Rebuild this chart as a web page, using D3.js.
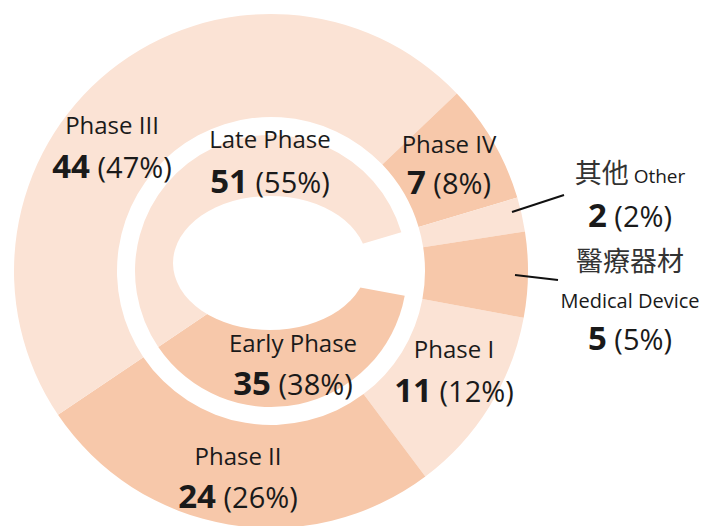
<!DOCTYPE html>
<html>
<head>
<meta charset="utf-8">
<script src="https://cdn.jsdelivr.net/npm/d3@7"></script>
<style>
  body { margin: 0; background: #fff; }
  svg { display: block; }
  text { font-family: "Open Sans", sans-serif; fill: #1a1a1a; }
</style>
</head>
<body>
<svg id="chart" width="701" height="526"></svg>
<script>
// outer ring: by phase / type (clockwise, starting at Phase I)
var outerNames = ["Phase I", "Phase II", "Phase III", "Phase IV", "Other", "Medical Device"];
var outerValues = [11, 24, 44, 7, 2, 5];
var outerPct = [12, 26, 47, 8, 2, 5];
var outerShade = ["light", "dark", "light", "dark", "light", "dark"];

// inner ring: early / late, the last slot is left blank (other + device)
var innerNames = ["Early Phase", "Late Phase", "blank"];
var innerValues = [35, 51, 7];
var innerPct = [38, 55, null];
var innerShade = ["dark", "light", "none"];

var colors = { light: "#fbe3d5", dark: "#f7c8aa", none: "none" };

var svg = d3.select("#chart");
var cx = 271, cy = 271;
var startA = 100.5 * Math.PI / 180; // Phase I starts a bit past 3 o'clock

var pie = d3.pie().sort(null).startAngle(startA).endAngle(startA + 2 * Math.PI);

var outerArc = d3.arc().innerRadius(154).outerRadius(257);
var innerArc = d3.arc().innerRadius(0).outerRadius(136);

var g = svg.append("g").attr("transform", "translate(" + cx + "," + cy + ")");

g.selectAll("path.outer")
  .data(pie(outerValues))
  .enter().append("path")
  .attr("class", "outer")
  .attr("d", outerArc)
  .attr("fill", function(d, i) { return colors[outerShade[i]]; });

g.selectAll("path.inner")
  .data(pie(innerValues))
  .enter().append("path")
  .attr("class", "inner")
  .attr("d", innerArc)
  .attr("fill", function(d, i) { return colors[innerShade[i]]; });

// hole of the inner ring (it is squashed in the original)
g.append("ellipse")
  .attr("cx", -1).attr("cy", -8)
  .attr("rx", 97).attr("ry", 67)
  .attr("fill", "#fff");

// title, almost entirely above the visible area
svg.append("text")
  .attr("x", 389).attr("y", -6)
  .attr("text-anchor", "middle")
  .attr("textLength", 214)
  .style("font-size", "24px")
  .text("(Study Phase & Type)");

// label placement (x center, baseline of the name line, baseline of the value line)
var labelPos = {
  "Phase III": [112, 134, 178],
  "Late Phase": [270, 148, 193],
  "Phase IV": [449, 153, 194],
  "Phase I": [454, 358, 402],
  "Early Phase": [293, 352, 395],
  "Phase II": [238, 465, 508],
  "Other": [630, 183, 227],
  "Medical Device": [630, 308, 350]
};

function valueLine(x, y, v, p) {
  var t = svg.append("text").attr("x", x).attr("y", y).attr("text-anchor", "middle");
  t.append("tspan").style("font-size", "33px").style("font-weight", "bold").text(v);
  t.append("tspan").style("font-size", "29px").text(" (" + p + "%)");
}

function simpleLabel(name, v, p) {
  var pos = labelPos[name];
  svg.append("text")
    .attr("x", pos[0]).attr("y", pos[1])
    .attr("text-anchor", "middle")
    .style("font-size", "24px")
    .text(name);
  valueLine(pos[0], pos[2], v, p);
}

outerNames.forEach(function(n, i) {
  if (n === "Other" || n === "Medical Device") return;
  simpleLabel(n, outerValues[i], outerPct[i]);
});
innerNames.forEach(function(n, i) {
  if (innerPct[i] == null) return;
  simpleLabel(n, innerValues[i], innerPct[i]);
});

// Other: chinese + english on one line
var oi = outerNames.indexOf("Other");
var op = labelPos["Other"];
var ot = svg.append("text").attr("x", op[0]).attr("y", op[1]).attr("text-anchor", "middle");
ot.append("tspan").style("font-family", "'Noto Sans CJK TC', sans-serif").style("font-size", "27px")
  .style("fill", "#333").text("其他");
ot.append("tspan").style("font-size", "19px").text(" Other");
valueLine(op[0], op[2], outerValues[oi], outerPct[oi]);

// Medical device: two name lines
var mi = outerNames.indexOf("Medical Device");
var mp = labelPos["Medical Device"];
svg.append("text").attr("x", mp[0]).attr("y", 271).attr("text-anchor", "middle")
  .style("font-family", "'Noto Sans CJK TC', sans-serif").style("font-size", "27px")
  .style("fill", "#333").text("醫療器材");
svg.append("text").attr("x", mp[0]).attr("y", mp[1]).attr("text-anchor", "middle")
  .style("font-size", "20px").text("Medical Device");
valueLine(mp[0], mp[2], outerValues[mi], outerPct[mi]);

// leader lines
svg.append("line").attr("x1", 512).attr("y1", 212).attr("x2", 564).attr("y2", 195)
  .attr("stroke", "#111").attr("stroke-width", 2);
svg.append("line").attr("x1", 515).attr("y1", 275).attr("x2", 558).attr("y2", 280)
  .attr("stroke", "#111").attr("stroke-width", 2);
</script>
</body>
</html>
